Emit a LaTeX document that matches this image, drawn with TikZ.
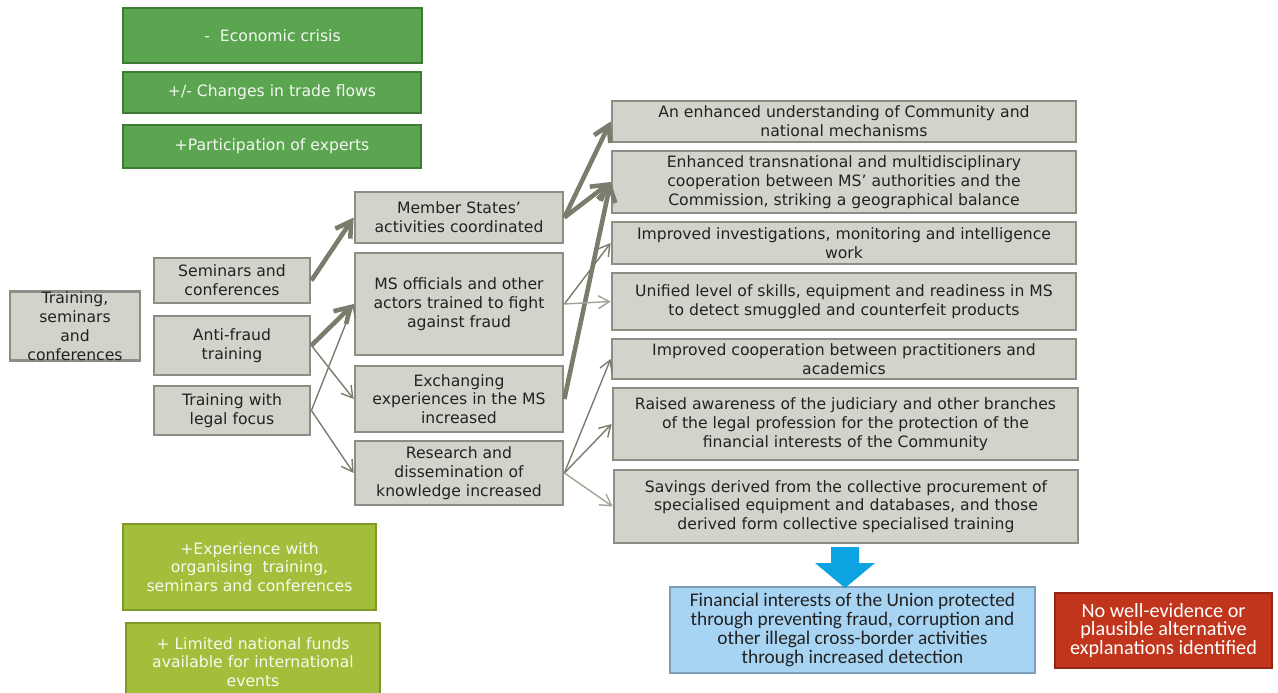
\documentclass[tikz,border=0pt]{standalone}
\usepackage{fontspec}
\setmainfont{DejaVu Sans}
\newfontfamily\calibrifont{Carlito}
\usepackage{xcolor}
\usetikzlibrary{arrows.meta,positioning}

\definecolor{cajafill}{HTML}{D4D3CB}
\definecolor{cajaborde}{HTML}{8E8D85}
\definecolor{flecha}{HTML}{7C7C6C}
\definecolor{flechaclara}{HTML}{A3A395}
\definecolor{verdefill}{HTML}{5BA550}
\definecolor{verdeborde}{HTML}{3E7A36}
\definecolor{limafill}{HTML}{A2BE3A}
\definecolor{limaborde}{HTML}{7E9A24}
\definecolor{azulfill}{HTML}{A8D4F3}
\definecolor{azulborde}{HTML}{7C9EBA}
\definecolor{azulflecha}{HTML}{0CA3E0}
\definecolor{rojofill}{HTML}{C1351C}
\definecolor{rojoborde}{HTML}{962613}
\definecolor{texto}{HTML}{222222}

\begin{document}
\begin{tikzpicture}[
x=0.02cm, y=-0.02cm,
 every node/.style = {shape=rectangle, draw, align=center, inner sep=0pt,
      font=\fontsize{8.9}{10.7}\selectfont, text=texto},
 caja/.style = {fill=cajafill, draw=cajaborde, line width=1.6pt},
 verde/.style = {fill=verdefill, draw=verdeborde, line width=1.6pt, text=white!92!verdefill},
 lima/.style = {fill=limafill, draw=limaborde, line width=1.6pt, text=white!92!limafill},
 azul/.style = {fill=azulfill, draw=azulborde, line width=1.4pt,
      font=\calibrifont\fontsize{11}{10.7}\selectfont},
 rojo/.style = {fill=rojofill, draw=rojoborde, line width=1.4pt, text=white,
      font=\calibrifont\fontsize{11.5}{10.6}\selectfont},
 gruesa/.style = {draw=flecha, line width=2.6pt, -{Straight Barb[length=3mm,width=3.6mm]}},
 fina/.style = {draw=flecha, line width=0.8pt, -{Straight Barb[length=2.2mm,width=2.6mm]}},
 clara/.style = {fina, draw=flechaclara}
]
\useasboundingbox (0,0) rectangle (1278,693);

  % Cajas
  \node[verde, minimum width=5.98cm, minimum height=1.10cm] (V1) at (272.5,35.5) {-\ \ Economic crisis};
  \node[verde, minimum width=5.96cm, minimum height=0.82cm] (V2) at (272,92.5) {+/- Changes in trade flows};
  \node[verde, minimum width=5.96cm, minimum height=0.86cm] (V3) at (272,146.5) {+Participation of experts};

  \node[caja, minimum width=2.6cm, minimum height=1.32cm] (A) at (75,326) {Training,\\seminars\\and\\conferences};

  \node[caja, minimum width=3.12cm, minimum height=0.90cm] (B) at (232,280.5) {Seminars and\\conferences};
  \node[caja, minimum width=3.12cm, minimum height=1.18cm] (C) at (232,345.5) {Anti-fraud\\training};
  \node[caja, minimum width=3.12cm, minimum height=0.98cm] (D) at (232,410.5) {Training with\\legal focus};

  \node[caja, minimum width=4.16cm, minimum height=1.02cm] (E) at (459,217.5) {Member States’\\activities coordinated};
  \node[caja, minimum width=4.16cm, minimum height=2.04cm] (F) at (459,304) {MS officials and other\\actors trained to fight\\against fraud};
  \node[caja, minimum width=4.16cm, minimum height=1.32cm] (G) at (459,399) {Exchanging\\experiences in the MS\\increased};
  \node[caja, minimum width=4.16cm, minimum height=1.28cm] (H) at (459,473) {Research and\\dissemination of\\knowledge increased};

  \node[caja, minimum width=9.28cm, minimum height=0.82cm] (R1) at (844,121.5) {An enhanced understanding of Community and\\national mechanisms};
  \node[caja, minimum width=9.28cm, minimum height=1.24cm] (R2) at (844,182) {Enhanced transnational and multidisciplinary\\cooperation between MS’ authorities and the\\Commission, striking a geographical balance};
  \node[caja, minimum width=9.28cm, minimum height=0.84cm] (R3) at (844,243) {Improved investigations, monitoring and intelligence\\work};
  \node[caja, minimum width=9.28cm, minimum height=1.14cm] (R4) at (844,301.5) {Unified level of skills, equipment and readiness in MS\\to detect smuggled and counterfeit products};
  \node[caja, minimum width=9.28cm, minimum height=0.80cm] (R5) at (844,359) {Improved cooperation between practitioners and\\academics};
  \node[caja, minimum width=9.30cm, minimum height=1.44cm] (R6) at (845.5,424) {Raised awareness of the judiciary and other branches\\of the legal profession for the protection of the\\financial interests of the Community};
  \node[caja, minimum width=9.28cm, minimum height=1.46cm] (R7) at (846,506.5) {Savings derived from the collective procurement of\\specialised equipment and databases, and those\\derived form collective specialised training};

  \node[azul, minimum width=7.30cm, minimum height=1.72cm] (P) at (852.5,630) {Financial interests of the Union protected\\through preventing fraud, corruption and\\other illegal cross-border activities\\through increased detection};
  \node[rojo, minimum width=4.34cm, minimum height=1.50cm] (Q) at (1163.5,630.5) {No well-evidence or\\plausible alternative\\explanations identified};

  \node[lima, minimum width=5.06cm, minimum height=1.72cm] (L1) at (249.5,567) {+Experience with\\organising\ \ training,\\seminars and conferences};
  \node[lima, minimum width=5.08cm, minimum height=1.56cm] (L2) at (253,662) {+ Limited national funds\\available for international\\events};

  % Flechas
  \draw[gruesa] (B.east) -- (E.west);
  \draw[gruesa] (C.east) -- (F.west);
  \draw[fina] (C.east) -- (G.west);
  \draw[fina] (D.east) -- (F.west);
  \draw[fina] (D.east) -- (H.west);

  \draw[gruesa] (E.east) -- (R1.west);
  \draw[gruesa] (E.east) -- (R2.west);
  \draw[gruesa] (G.east) -- (R2.west);
  \draw[fina] (F.east) -- (R3.west);
  \draw[clara] (F.east) -- (R4.west);
  \draw[fina] (H.east) -- (R5.west);
  \draw[fina] (H.east) -- (R6.west);
  \draw[clara] (H.east) -- (R7.west);

  \fill[azulflecha] (831,547) -- (859,547) -- (859,563) -- (875,563) -- (845,588)
    -- (815,563) -- (831,563) -- cycle;

\end{tikzpicture}
\end{document}
